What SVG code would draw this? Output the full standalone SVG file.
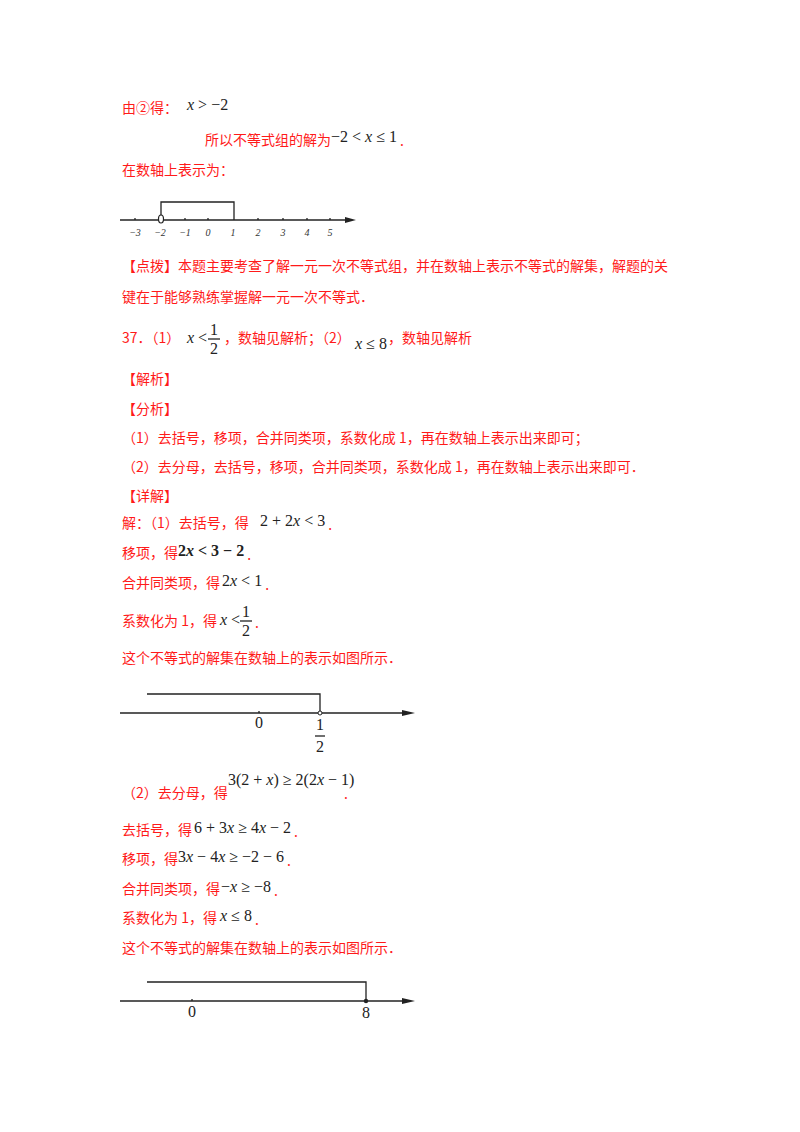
<svg xmlns="http://www.w3.org/2000/svg" width="800" height="1132" viewBox="0 0 800 1132">
<style>
.r{font-family:"Noto Sans CJK SC","Noto Sans",sans-serif;font-size:14px;fill:#ff1a1a}
.m{font-family:"Liberation Serif",serif;font-size:16px;fill:#222}
.p{fill:#ff1a1a;font-family:"Noto Sans CJK SC","Noto Sans",sans-serif;font-size:14px;font-style:normal;font-weight:normal}
.i{font-style:italic}
.b{font-weight:bold}
.n{font-family:"Liberation Serif",serif;font-size:10px;fill:#333;font-style:italic;text-anchor:middle}
.l{stroke:#222;stroke-width:1.3;fill:none}
</style>
<rect width="800" height="1132" fill="#fff"/>
<text class="r" x="122" y="113">由②得：</text>
<text class="m" x="187" y="110"><tspan class="i">x</tspan> &gt; −2</text>
<text class="r" x="205" y="145">所以不等式组的解为</text>
<text class="m" x="331" y="142">−2 &lt; <tspan class="i">x</tspan> ≤ 1<tspan class="p" dx="3" dy="4">.</tspan></text>
<text class="r" x="122" y="175">在数轴上表示为：</text>
<g id="line1">
<line class="l" x1="120" y1="220" x2="350" y2="220"/>
<path d="M345,217 L356,220 L345,223 Z" fill="#222"/>
<g class="l"><line x1="135" y1="218" x2="135" y2="220"/><line x1="185" y1="218" x2="185" y2="220"/><line x1="208" y1="218" x2="208" y2="220"/><line x1="258" y1="218" x2="258" y2="220"/><line x1="283" y1="218" x2="283" y2="220"/><line x1="307" y1="218" x2="307" y2="220"/><line x1="330" y1="218" x2="330" y2="220"/></g>
<polyline class="l" points="161,217 161,202 234,202 234,220"/>
<ellipse cx="161" cy="219" rx="2.5" ry="4" fill="#fff" stroke="#222" stroke-width="1.2"/>
<text class="n" x="135" y="236">−3</text><text class="n" x="160" y="236">−2</text><text class="n" x="185" y="236">−1</text><text class="n" x="208" y="236">0</text><text class="n" x="233" y="236">1</text><text class="n" x="258" y="236">2</text><text class="n" x="283" y="236">3</text><text class="n" x="307" y="236">4</text><text class="n" x="330" y="236">5</text>
</g>
<text class="r" x="122" y="271">【点拨】本题主要考查了解一元一次不等式组，并在数轴上表示不等式的解集，解题的关</text>
<text class="r" x="122" y="302">键在于能够熟练掌握解一元一次不等式．</text>
<text class="r" x="122" y="343">37．（1）</text>
<text class="m" x="187" y="343"><tspan class="i">x</tspan> &lt;</text>
<text class="m" x="210" y="335">1</text><line class="l" x1="208" y1="339" x2="220" y2="339" stroke-width="1"/><text class="m" x="210" y="354">2</text>
<text class="r" x="224" y="343">，数轴见解析；（2）</text>
<text class="m" x="355" y="349"><tspan class="i">x</tspan> ≤ 8</text>
<text class="r" x="388" y="343">，数轴见解析</text>
<text class="r" x="122" y="384">【解析】</text>
<text class="r" x="122" y="414">【分析】</text>
<text class="r" x="122" y="443">（1）去括号，移项，合并同类项，系数化成 1，再在数轴上表示出来即可；</text>
<text class="r" x="122" y="472">（2）去分母，去括号，移项，合并同类项，系数化成 1，再在数轴上表示出来即可．</text>
<text class="r" x="122" y="501">【详解】</text>
<text class="r" x="122" y="528">解：（1）去括号，得</text>
<text class="m" x="260" y="526">2 + 2<tspan class="i">x</tspan> &lt; 3<tspan class="p" dx="3" dy="4">.</tspan></text>
<text class="r" x="122" y="558">移项，得</text>
<text class="m b" x="178" y="556">2<tspan class="i">x</tspan> &lt; 3 − 2<tspan class="p" dx="3" dy="4">.</tspan></text>
<text class="r" x="122" y="588">合并同类项，得</text>
<text class="m" x="222" y="586">2<tspan class="i">x</tspan> &lt; 1<tspan class="p" dx="3" dy="4">.</tspan></text>
<text class="r" x="122" y="626">系数化为 1，得</text>
<text class="m" x="220" y="625"><tspan class="i">x</tspan> &lt;</text>
<text class="m" x="242" y="617">1</text><line class="l" x1="240" y1="621" x2="252" y2="621" stroke-width="1"/><text class="m" x="242" y="636">2</text>
<text class="r" x="255" y="628">.</text>
<text class="r" x="122" y="663">这个不等式的解集在数轴上的表示如图所示．</text>
<g id="line2">
<line class="l" x1="120" y1="713" x2="408" y2="713"/>
<path d="M402,710 L415,713 L402,716 Z" fill="#222"/>
<line class="l" x1="259" y1="711" x2="259" y2="713"/>
<polyline class="l" points="147,694 320,694 320,711"/>
<circle cx="320" cy="713" r="2" fill="#fff" stroke="#222"/>
<text class="m" x="259" y="728" text-anchor="middle" font-size="12">0</text>
<text class="m" x="320" y="730" text-anchor="middle" font-size="12">1</text>
<line class="l" x1="315" y1="736" x2="325" y2="736" stroke-width="1.5"/>
<text class="m" x="320" y="752" text-anchor="middle" font-size="12">2</text>
</g>
<text class="r" x="122" y="798">（2）去分母，得</text>
<text class="m" x="228" y="785">3(2 + <tspan class="i">x</tspan>) ≥ 2(2<tspan class="i">x</tspan> − 1)</text>
<text class="r" x="344" y="799">.</text>
<text class="r" x="122" y="835">去括号，得</text>
<text class="m" x="194" y="833">6 + 3<tspan class="i">x</tspan> ≥ 4<tspan class="i">x</tspan> − 2<tspan class="p" dx="3" dy="4">.</tspan></text>
<text class="r" x="122" y="864">移项，得</text>
<text class="m" x="178" y="862">3<tspan class="i">x</tspan> − 4<tspan class="i">x</tspan> ≥ −2 − 6<tspan class="p" dx="3" dy="4">.</tspan></text>
<text class="r" x="122" y="894">合并同类项，得</text>
<text class="m" x="221" y="892">−<tspan class="i">x</tspan> ≥ −8<tspan class="p" dx="3" dy="4">.</tspan></text>
<text class="r" x="122" y="923">系数化为 1，得</text>
<text class="m" x="220" y="921"><tspan class="i">x</tspan> ≤ 8<tspan class="p" dx="3" dy="4">.</tspan></text>
<text class="r" x="122" y="953">这个不等式的解集在数轴上的表示如图所示．</text>
<g id="line3">
<line class="l" x1="120" y1="1001" x2="408" y2="1001"/>
<path d="M402,998 L415,1001 L402,1004 Z" fill="#222"/>
<line class="l" x1="192" y1="999" x2="192" y2="1001"/>
<polyline class="l" points="147,982 366,982 366,1001"/>
<circle cx="366" cy="1001" r="2.2" fill="#222"/>
<text class="m" x="192" y="1017" text-anchor="middle" font-size="12">0</text>
<text class="m" x="366" y="1018" text-anchor="middle" font-size="12">8</text>
</g>
</svg>
